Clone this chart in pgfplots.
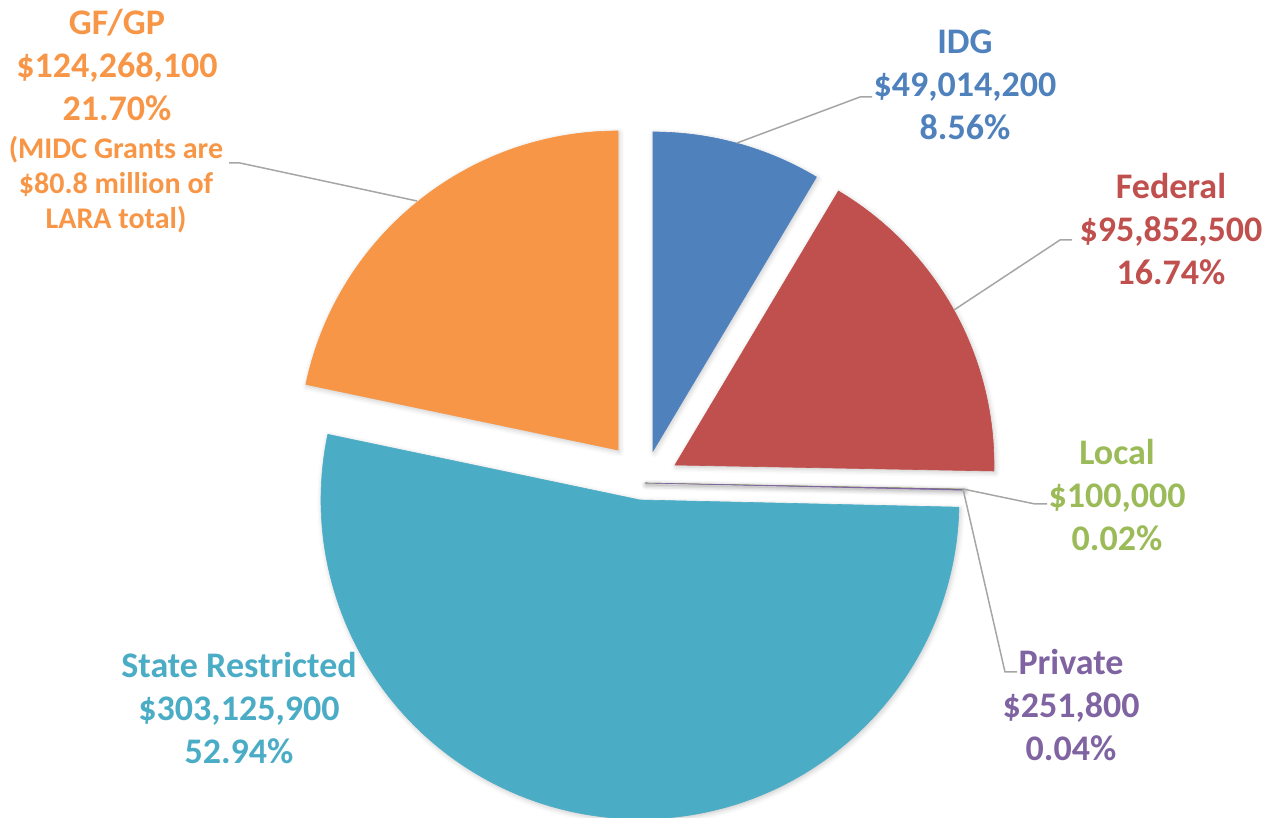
\documentclass[border=0pt]{standalone}
\usepackage{pgfplots}
\pgfplotsset{compat=1.18}
\usepackage{pgfplotstable}
\usepackage{fontspec}
\setmainfont{Carlito}
\usetikzlibrary{shadows.blur}

\definecolor{idg}{HTML}{4F81BD}
\definecolor{fed}{HTML}{C0504D}
\definecolor{loc}{HTML}{9BBB59}
\definecolor{pri}{HTML}{8064A2}
\definecolor{sr}{HTML}{4BACC6}
\definecolor{gf}{HTML}{F79646}
\definecolor{leader}{HTML}{A6A6A6}

% value in millions of dollars, cx/cy = centre of the (exploded) slice
\pgfplotstableread{
name    value     cx   cy   col
IDG     49.0142   653  367  idg
Federal 95.8525   675  353  fed
Local   0.1000    645  335  loc
Private 0.2518    645  335  pri
State   303.1259  640  318  sr
GFGP    124.2681  618  368  gf
}\slices

\begin{document}
\begin{tikzpicture}
\begin{axis}[
    hide axis,
    scale only axis,
    x=0.5pt, y=0.5pt,
    xmin=0, xmax=1266,
    ymin=0, ymax=818,
    clip=false,
]
\pgfplotstablegetrowsof{\slices}
\pgfmathtruncatemacro\nrows{\pgfplotsretval-1}
\def\total{0}
\pgfplotsforeachungrouped \i in {0,...,\nrows}{%
  \pgfplotstablegetelem{\i}{value}\of\slices
  \pgfmathsetmacro\total{\total+\pgfplotsretval}%
}
\def\angstart{90}
\pgfplotsforeachungrouped \i in {0,...,\nrows}{%
  \pgfplotstablegetelem{\i}{value}\of\slices \let\v\pgfplotsretval
  \pgfplotstablegetelem{\i}{cx}\of\slices \let\cx\pgfplotsretval
  \pgfplotstablegetelem{\i}{cy}\of\slices \let\cy\pgfplotsretval
  \pgfplotstablegetelem{\i}{col}\of\slices \let\col\pgfplotsretval
  \pgfmathsetmacro\angend{\angstart-\v/\total*360}%
  \edef\temp{\noexpand\filldraw[fill=\col, draw=\col, line width=0.3pt,
      blur shadow={shadow xshift=0.6pt, shadow yshift=-0.9pt, shadow blur radius=2.5pt, shadow opacity=22}]
    (axis cs:\cx,\cy) -- ++(\angstart:159.5pt)
    arc[start angle=\angstart, end angle=\angend, radius=159.5pt] -- cycle;}%
  \temp
  \let\angstart\angend
}

% leader lines
\draw[leader, line width=0.75pt] (axis cs:737,675) -- (axis cs:860,721) -- (axis cs:872,721);
\draw[leader, line width=0.75pt] (axis cs:954,508) -- (axis cs:1060,578) -- (axis cs:1072,578);
\draw[leader, line width=0.75pt] (axis cs:963,329) -- (axis cs:1035,314) -- (axis cs:1047,314);
\draw[leader, line width=0.75pt] (axis cs:963,329) -- (axis cs:1005,146) -- (axis cs:1017,146);
\draw[leader, line width=0.75pt] (axis cs:417,617) -- (axis cs:240,655) -- (axis cs:229,655);

% labels
\tikzset{lab/.style={align=center, font=\fontsize{18}{21.5}\selectfont\bfseries, inner sep=0pt}}
\node[lab, text=idg] at (axis cs:965,733) {IDG\\\$49,014,200\\8.56\%};
\node[lab, text=fed] at (axis cs:1171,589) {Federal\\\$95,852,500\\16.74\%};
\node[lab, text=loc] at (axis cs:1117,323) {Local\\\$100,000\\0.02\%};
\node[lab, text=pri] at (axis cs:1071,113) {Private\\\$251,800\\0.04\%};
\node[lab, text=sr] at (axis cs:239,110) {State Restricted\\\$303,125,900\\52.94\%};
\node[lab, text=gf] at (axis cs:117,753) {GF/GP\\\$124,268,100\\21.70\%};
\node[lab, text=gf, font=\fontsize{15}{17.5}\selectfont\bfseries] at (axis cs:116,633)
  {(MIDC Grants are\\\$80.8 million of\\LARA total)};

\coordinate (bl) at (axis cs:0,0);
\coordinate (tr) at (axis cs:1266,818);
\end{axis}
\pgfresetboundingbox
\path[use as bounding box] (bl) rectangle (tr);
\end{tikzpicture}
\end{document}
